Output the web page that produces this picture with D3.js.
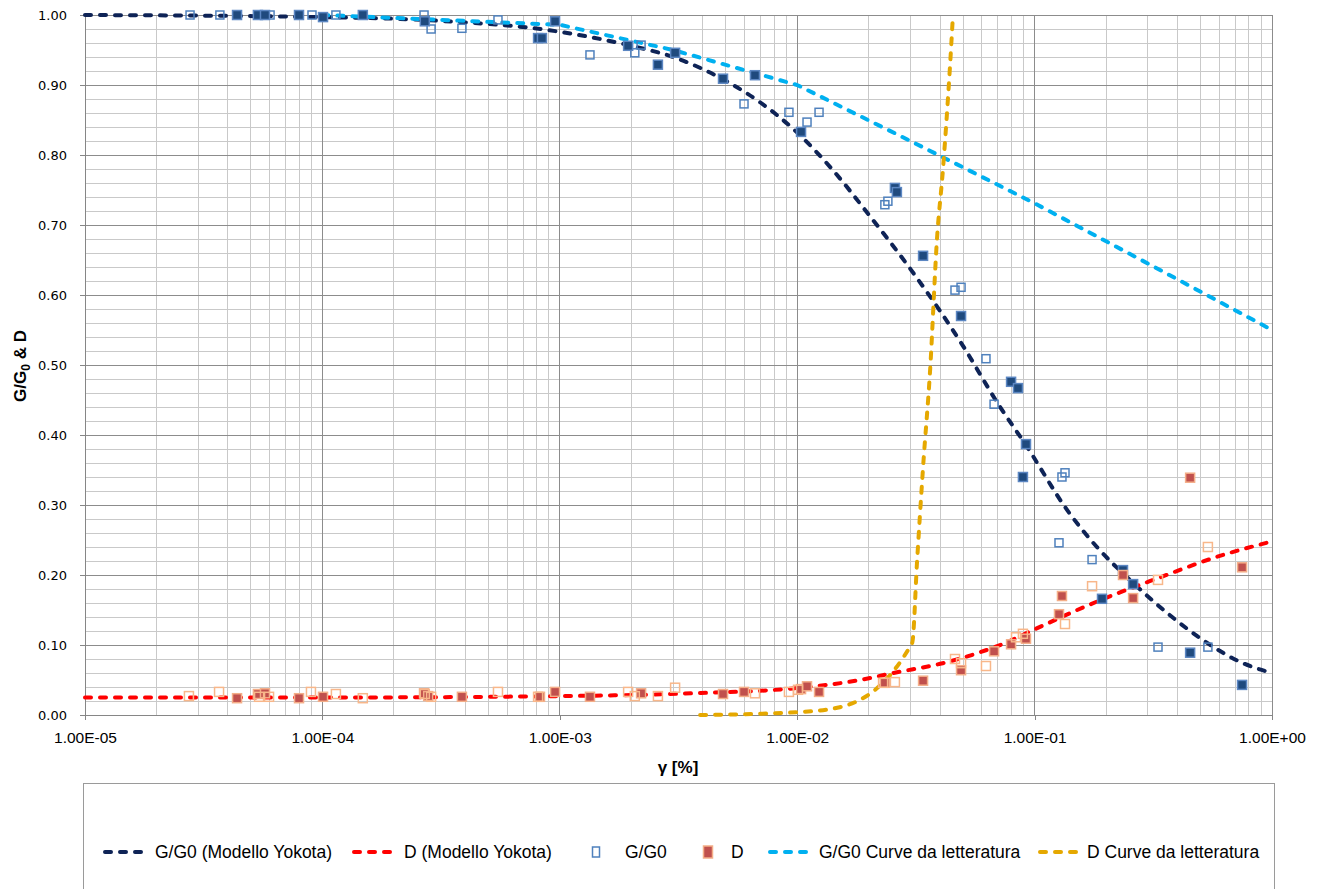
<!DOCTYPE html>
<html>
<head>
<meta charset="utf-8">
<script src="https://cdn.jsdelivr.net/npm/d3@7"></script>
<style>
  html, body { margin: 0; padding: 0; background: #ffffff; }
  svg { display: block; }
</style>
</head>
<body>
<svg id="chart" width="1322" height="889"></svg>
<script>
// ---------------- DATA ----------------
const xTickValues = [1e-5, 1e-4, 1e-3, 1e-2, 1e-1, 1];
const xTickLabels = ["1.00E-05", "1.00E-04", "1.00E-03", "1.00E-02", "1.00E-01", "1.00E+00"];
const yTickValues = [0, 0.1, 0.2, 0.3, 0.4, 0.5, 0.6, 0.7, 0.8, 0.9, 1.0];
const yTickLabels = ["0.00", "0.10", "0.20", "0.30", "0.40", "0.50", "0.60", "0.70", "0.80", "0.90", "1.00"];

// G/G0 (Modello Yokota) curve  [gamma %, G/G0]
const yokotaGG = [[1e-5,1.000],[1e-4,0.997],[3e-4,0.992],[1e-3,0.976],[2e-3,0.956],[3e-3,0.940],[5e-3,0.906],
  [7e-3,0.875],[1e-2,0.832],[1.4e-2,0.780],[2e-2,0.715],[3e-2,0.637],[4e-2,0.577],[5e-2,0.527],[7e-2,0.445],
  [9.3e-2,0.383],[0.137,0.293],[0.183,0.240],[0.252,0.193],[0.361,0.146],[0.512,0.107],[0.755,0.074],[1.0,0.060]];

// D (Modello Yokota) curve
const yokotaD = [[1e-5,0.025],[1e-4,0.025],[1e-3,0.027],[3.6e-3,0.031],[9.6e-3,0.038],[1.84e-2,0.050],
  [2.54e-2,0.060],[4.1e-2,0.074],[5.7e-2,0.088],[7.65e-2,0.104],[9.8e-2,0.121],[0.189,0.164],[0.328,0.195],
  [0.587,0.226],[1.0,0.248]];

// G/G0 Curve da letteratura
const litGG = [[1e-4,1.000],[1e-3,0.986],[3e-3,0.950],[1e-2,0.900],[3e-2,0.820],[0.1,0.731],[0.3,0.645],[1.0,0.550]];

// D Curve da letteratura
const litD = [[3.9e-3,0.000],[1.0e-2,0.004],[1.51e-2,0.011],[3.05e-2,0.103],[3.20e-2,0.221],[3.39e-2,0.354],
  [3.63e-2,0.493],[3.88e-2,0.680],[4.11e-2,0.779],[4.40e-2,0.926],[4.53e-2,1.000]];

// G/G0 measured (open squares)
const ggOpen = [[2.77e-5,1.0],[3.70e-5,1.0],[6.02e-5,1.0],[9.04e-5,1.0],[1.14e-4,1.0],[2.68e-4,1.0],[2.87e-4,0.980],
  [3.87e-4,0.981],[5.49e-4,0.993],[1.34e-3,0.943],[2.07e-3,0.946],[2.20e-3,0.957],[5.97e-3,0.873],[9.23e-3,0.861],
  [1.10e-2,0.847],[1.236e-2,0.861],[2.34e-2,0.729],[2.41e-2,0.734],[4.62e-2,0.607],[4.90e-2,0.611],[6.24e-2,0.509],
  [6.75e-2,0.444],[0.1304,0.340],[0.1343,0.346],[0.1267,0.246],[0.1746,0.222],[0.331,0.097],[0.537,0.097]];

// G/G0 measured (filled squares)
const ggFilled = [[4.37e-5,1.0],[5.35e-5,1.0],[5.73e-5,1.0],[7.97e-5,1.0],[1.006e-4,0.997],[1.48e-4,1.0],[2.70e-4,0.991],
  [8.10e-4,0.967],[8.41e-4,0.967],[9.55e-4,0.991],[1.94e-3,0.956],[2.59e-3,0.929],[3.06e-3,0.946],[4.87e-3,0.909],
  [6.64e-3,0.914],[1.038e-2,0.833],[2.58e-2,0.753],[2.63e-2,0.747],[3.39e-2,0.656],[4.90e-2,0.570],[7.96e-2,0.476],
  [8.51e-2,0.467],[9.20e-2,0.387],[8.93e-2,0.340],[0.1923,0.166],[0.2357,0.207],[0.2600,0.187],[0.452,0.089],[0.748,0.043]];

// D measured (filled squares)
const dFilled = [[4.37e-5,0.024],[5.35e-5,0.030],[5.73e-5,0.031],[7.97e-5,0.024],[1.006e-4,0.026],[2.68e-4,0.031],
  [2.79e-4,0.027],[3.87e-4,0.026],[8.25e-4,0.026],[9.55e-4,0.033],[1.34e-3,0.026],[2.20e-3,0.031],[4.87e-3,0.030],
  [5.97e-3,0.033],[1.038e-2,0.037],[1.10e-2,0.041],[1.236e-2,0.033],[2.34e-2,0.046],[3.39e-2,0.049],[4.90e-2,0.064],
  [6.75e-2,0.091],[7.96e-2,0.101],[9.20e-2,0.109],[0.1267,0.144],[0.1304,0.170],[0.2357,0.200],[0.2600,0.167],
  [0.452,0.339],[0.748,0.211]];

// D measured (open squares)
const dOpen = [[2.74e-5,0.027],[3.67e-5,0.033],[5.41e-5,0.026],[5.96e-5,0.026],[8.95e-5,0.033],[1.14e-4,0.030],
  [1.48e-4,0.024],[2.70e-4,0.030],[2.87e-4,0.026],[5.49e-4,0.033],[8.10e-4,0.026],[1.94e-3,0.033],[2.07e-3,0.027],
  [2.59e-3,0.027],[3.06e-3,0.039],[6.64e-3,0.031],[9.23e-3,0.033],[1.008e-2,0.036],[2.30e-2,0.046],[2.58e-2,0.047],
  [4.62e-2,0.080],[4.90e-2,0.074],[6.24e-2,0.070],[8.35e-2,0.111],[8.93e-2,0.116],[0.1343,0.130],[0.1746,0.184],
  [0.331,0.193],[0.537,0.240]];

const legendLabels = ["G/G0 (Modello Yokota)", "D (Modello Yokota)", "G/G0", "D", "G/G0 Curve da letteratura", "D Curve da letteratura"];

// ---------------- STYLE ----------------
const C = {
  navy: "#0E2356", red: "#FF0000", lblue: "#00B0F0", gold: "#E5A800",
  openBlue: "#4F81BD", fillBlue: "#1F4A7E", fillBlueStroke: "#5B86C2",
  fillRed: "#C0504D", fillRedStroke: "#F4AE88", openOrange: "#F8B78A",
  gridMajor: "#8C8C8C", gridMinor: "#C9C9C9", axis: "#868686"
};

const svg = d3.select("#chart");
const plot = { left: 85, right: 1272, top: 15, bottom: 715 };

const x = d3.scaleLog().domain([1e-5, 1]).range([plot.left, plot.right]);
const y = d3.scaleLinear().domain([0, 1]).range([plot.bottom, plot.top]);

// ---------------- GRID ----------------
const grid = svg.append("g");
const minorX = x.ticks().filter(v => !xTickValues.some(t => Math.abs(t - v) / t < 1e-9));
grid.selectAll(".vminor").data(minorX).join("line")
  .attr("x1", d => x(d)).attr("x2", d => x(d)).attr("y1", plot.top).attr("y2", plot.bottom)
  .attr("stroke", C.gridMinor).attr("stroke-width", 1).attr("shape-rendering", "crispEdges");
const minorY = d3.range(0, 51).map(i => i / 50).filter(v => Math.abs(v * 10 - Math.round(v * 10)) > 1e-6);
grid.selectAll(".hminor").data(minorY).join("line")
  .attr("x1", plot.left).attr("x2", plot.right).attr("y1", d => y(d)).attr("y2", d => y(d))
  .attr("stroke", C.gridMinor).attr("stroke-width", 1).attr("shape-rendering", "crispEdges");
grid.selectAll(".vmajor").data(xTickValues.slice(1)).join("line")
  .attr("x1", d => x(d)).attr("x2", d => x(d)).attr("y1", plot.top).attr("y2", plot.bottom)
  .attr("stroke", C.gridMajor).attr("stroke-width", 1).attr("shape-rendering", "crispEdges");
grid.selectAll(".hmajor").data(yTickValues.slice(1)).join("line")
  .attr("x1", plot.left).attr("x2", plot.right).attr("y1", d => y(d)).attr("y2", d => y(d))
  .attr("stroke", C.gridMajor).attr("stroke-width", 1).attr("shape-rendering", "crispEdges");

// ---------------- AXES ----------------
const xAxis = d3.axisBottom(x).tickValues(xTickValues)
  .tickFormat((d, i) => xTickLabels[i]).tickSize(5).tickPadding(12);
const gx = svg.append("g").attr("transform", `translate(0,${plot.bottom})`).call(xAxis);
gx.select(".domain").attr("stroke", C.axis).attr("shape-rendering", "crispEdges");
gx.selectAll(".tick line").attr("stroke", C.axis).attr("shape-rendering", "crispEdges");
gx.selectAll(".tick text").attr("font-family", "'Liberation Sans', Arial, sans-serif")
  .attr("font-size", "15.5px").attr("fill", "#000");

const yAxis = d3.axisLeft(y).tickValues(yTickValues)
  .tickFormat((d, i) => yTickLabels[i]).tickSize(5).tickPadding(13);
const gy = svg.append("g").attr("transform", `translate(${plot.left},0)`).call(yAxis);
gy.select(".domain").attr("stroke", C.axis).attr("shape-rendering", "crispEdges");
gy.selectAll(".tick line").attr("stroke", C.axis).attr("shape-rendering", "crispEdges");
gy.selectAll(".tick text").attr("font-family", "'DejaVu Sans', Verdana, sans-serif")
  .attr("font-size", "13px").attr("fill", "#000");

// axis titles
svg.append("text").attr("x", 678).attr("y", 773).attr("text-anchor", "middle")
  .attr("font-family", "'Liberation Sans', Arial, sans-serif").attr("font-weight", "bold")
  .attr("font-size", "17px").text("γ [%]");

const yt = svg.append("text").attr("transform", "translate(26,366) rotate(-90)")
  .attr("text-anchor", "middle")
  .attr("font-family", "'Liberation Sans', Arial, sans-serif").attr("font-weight", "bold")
  .attr("font-size", "17px");
yt.append("tspan").text("G/G");
yt.append("tspan").attr("font-size", "12px").attr("dy", 4).text("0");
yt.append("tspan").attr("dy", -4).text(" & D");

// ---------------- LINES ----------------
const dash = "6,9";
const lineMono = d3.line().x(d => x(d[0])).y(d => y(d[1])).curve(d3.curveMonotoneX);
const lineLin = d3.line().x(d => x(d[0])).y(d => y(d[1]));
const lines = svg.append("g").attr("fill", "none").attr("stroke-width", 4)
  .attr("stroke-linecap", "round").attr("stroke-dasharray", dash);

lines.append("path").datum(yokotaGG).attr("d", lineMono).attr("stroke", C.navy);
lines.append("path").datum(yokotaD).attr("d", lineMono).attr("stroke", C.red);
lines.append("path").datum(litGG).attr("d", lineLin).attr("stroke", C.lblue);
lines.append("path").datum(litD).attr("d", lineMono).attr("stroke", C.gold);

// ---------------- MARKERS ----------------
function squares(data, size, fill, stroke, sw) {
  svg.append("g").selectAll("rect").data(data).join("rect")
    .attr("x", d => x(d[0]) - size / 2).attr("y", d => y(d[1]) - size / 2)
    .attr("width", size).attr("height", size)
    .attr("fill", fill).attr("stroke", stroke).attr("stroke-width", sw);
}
squares(ggOpen, 8, "none", C.openBlue, 1.5);
squares(ggFilled, 9, C.fillBlue, C.fillBlueStroke, 1.5);
squares(dFilled, 9, C.fillRed, C.fillRedStroke, 1.5);
squares(dOpen, 9, "none", C.openOrange, 1.5);

// ---------------- LEGEND ----------------
const leg = svg.append("g");
leg.append("rect").attr("x", 83.5).attr("y", 783.5).attr("width", 1191).attr("height", 120)
  .attr("fill", "#fff").attr("stroke", "#9A9A9A").attr("stroke-width", 1);
const ly = 852;
const legendFont = "'Liberation Sans', Arial, sans-serif";
const legendItems = [
  { type: "line", color: C.navy, x0: 103, x1: 145, tx: 155 },
  { type: "line", color: C.red, x0: 352, x1: 394, tx: 404 },
  { type: "open", color: C.openBlue, cx: 596, tx: 625 },
  { type: "filled", color: C.fillRed, cx: 708, tx: 731 },
  { type: "line", color: C.lblue, x0: 768, x1: 810, tx: 819 },
  { type: "line", color: C.gold, x0: 1038, x1: 1080, tx: 1087 }
];
legendItems.forEach((it, i) => {
  if (it.type === "line") {
    leg.append("line").attr("x1", it.x0 + 2).attr("x2", it.x1).attr("y1", ly).attr("y2", ly)
      .attr("stroke", it.color).attr("stroke-width", 4).attr("stroke-linecap", "round")
      .attr("stroke-dasharray", dash);
  } else if (it.type === "open") {
    leg.append("rect").attr("x", it.cx - 3.5).attr("y", ly - 5).attr("width", 7).attr("height", 10)
      .attr("fill", "none").attr("stroke", it.color).attr("stroke-width", 1.5);
  } else {
    leg.append("rect").attr("x", it.cx - 4.5).attr("y", ly - 6).attr("width", 9).attr("height", 12)
      .attr("fill", it.color).attr("stroke", C.fillRedStroke).attr("stroke-width", 1.5);
  }
  leg.append("text").attr("x", it.tx).attr("y", ly + 6).attr("font-family", legendFont)
    .attr("font-size", "17.5px").attr("fill", "#000").text(legendLabels[i]);
});
</script>
</body>
</html>
